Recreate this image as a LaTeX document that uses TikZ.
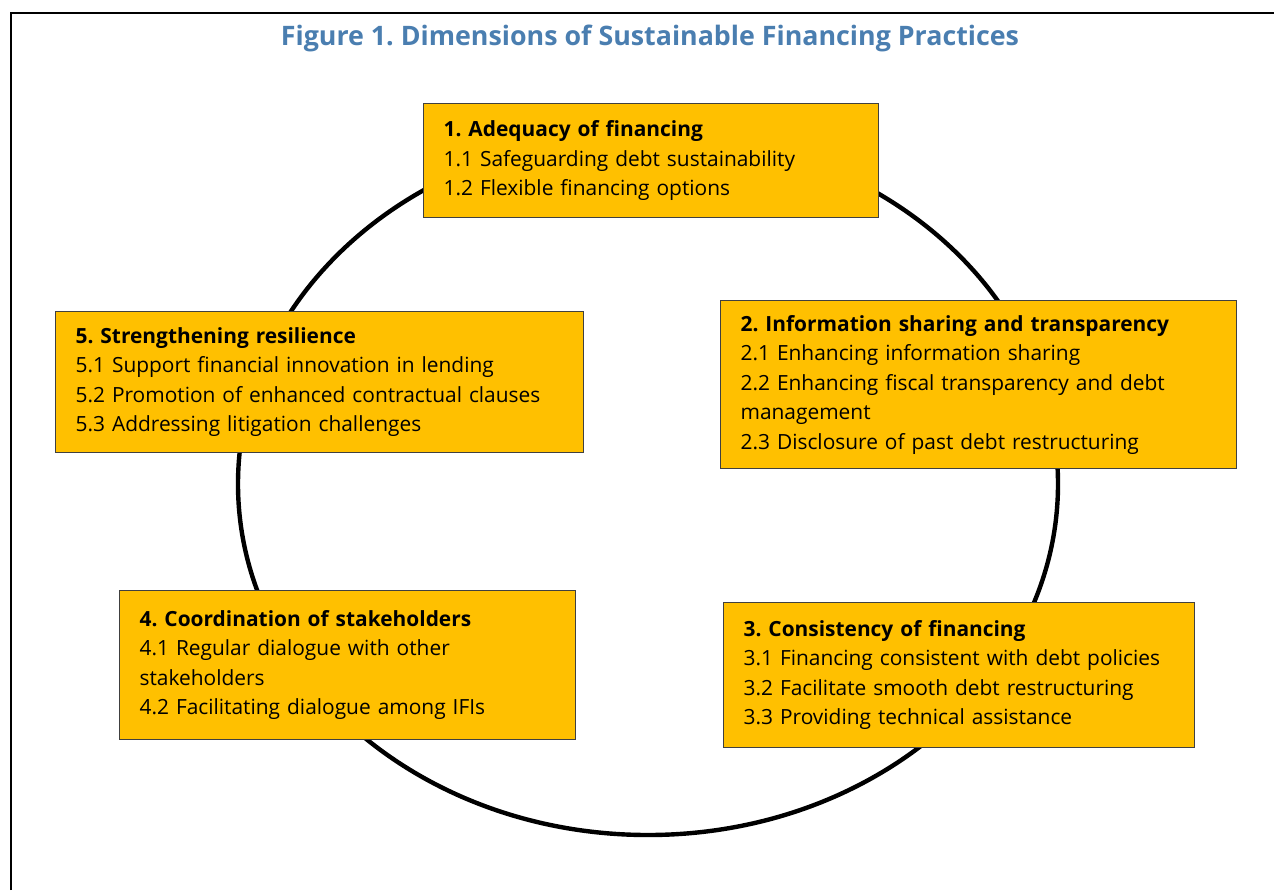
\documentclass[tikz,border=0pt]{standalone}
\usepackage{fontspec}
\setmainfont{Open Sans}
\usepackage{xcolor}
\usepackage{tikz}

\definecolor{titleblue}{RGB}{74,126,176}
\definecolor{boxgold}{RGB}{255,192,0}
\frenchspacing

\begin{document}
\begin{tikzpicture}[x=0.5pt, y=-0.5pt,
		dimbox/.style={draw=black!75, line width=0.6pt, fill=boxgold, anchor=north west, align=left,
			inner xsep=10pt, inner ysep=0pt, font=\fontsize{10.45}{14.75}\selectfont}]
		\useasboundingbox (0,0) rectangle (1274,890);
		\draw[line width=1pt] (11,890) -- (11,13) -- (1274,13);
		\node[font=\bfseries\fontsize{13.4}{16}\selectfont, text=titleblue] (title) at (650,38) {Figure 1. Dimensions of Sustainable Financing Practices};
		
		\draw[line width=2.2pt] (648,484) ellipse [x radius=205pt, y radius=175.5pt];

		\node[dimbox, text width=207.5pt, minimum height=57pt] (adequacy) at (423,103) {\textbf{1. Adequacy of financing}\\1.1 Safeguarding debt sustainability\\1.2 Flexible financing options};
		\node[dimbox, text width=238pt, minimum height=84pt] (sharing) at (720,300) {\textbf{2. Information sharing and transparency}\\2.1 Enhancing information sharing\\2.2 Enhancing fiscal transparency and debt\\management\\2.3 Disclosure of past debt restructuring};
		\node[dimbox, text width=215.5pt, minimum height=72.5pt] (consistency) at (723,602) {\textbf{3. Consistency of financing}\\3.1 Financing consistent with debt policies\\3.2 Facilitate smooth debt restructuring\\3.3 Providing technical assistance};
		\node[dimbox, text width=208pt, minimum height=74.5pt] (coordination) at (119,590) {\textbf{4. Coordination of stakeholders}\\4.1 Regular dialogue with other\\stakeholders\\4.2 Facilitating dialogue among IFIs};
		\node[dimbox, text width=244pt, minimum height=70.5pt] (resilience) at (55,311) {\textbf{5. Strengthening resilience}\\5.1 Support financial innovation in lending\\5.2 Promotion of enhanced contractual clauses\\5.3 Addressing litigation challenges};
	\end{tikzpicture}
\end{document}
